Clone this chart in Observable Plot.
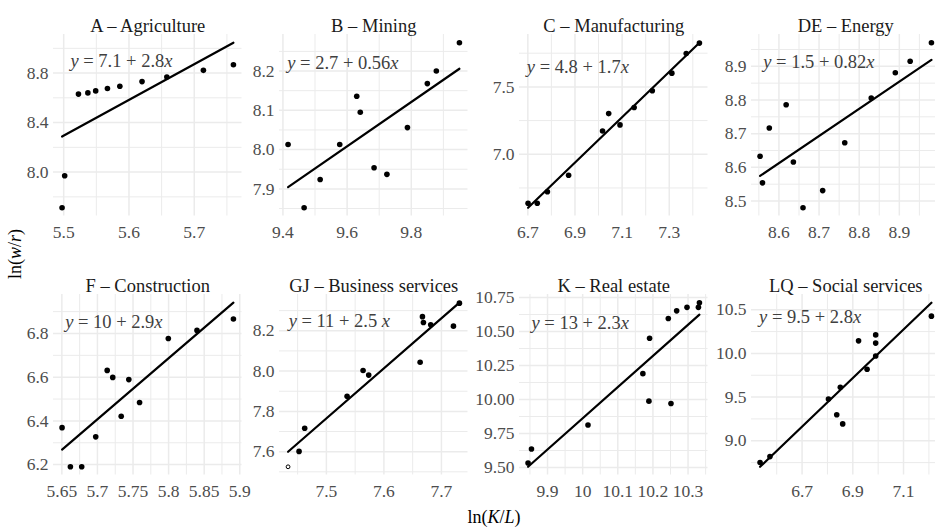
<!DOCTYPE html>
<html>
<head>
<meta charset="utf-8">
<script src="https://cdn.jsdelivr.net/npm/d3@7"></script>
<script src="https://cdn.jsdelivr.net/npm/@observablehq/plot@0.6"></script>
<style>
  html, body { margin: 0; padding: 0; background: #fff; overflow: hidden; }
  #chart { position: relative; width: 935px; height: 531px; overflow: hidden; background: #fff;
           font-family: "Liberation Serif", "Times New Roman", serif; }
  #chart svg, #chart svg text, #chart svg tspan { font-family: "Liberation Serif", "Times New Roman", serif !important; }
  .axtitle { position: absolute; font-family: "Liberation Serif", "Times New Roman", serif;
             font-size: 18px; color: #000; white-space: nowrap; line-height: 1; }
</style>
</head>
<body>
<div id="chart"></div>
<script>
// ---- panel titles and fitted-equation annotations ----
const titles = ["A – Agriculture", "B – Mining", "C – Manufacturing", "DE – Energy",
                "F – Construction", "GJ – Business services", "K – Real estate", "LQ – Social services"];
const equations = ["y = 7.1 + 2.8x", "y = 2.7 + 0.56x", "y = 4.8 + 1.7x", "y = 1.5 + 0.82x",
                   "y = 10 + 2.9x", "y = 11 + 2.5 x", "y = 13 + 2.3x", "y = 9.5 + 2.8x"];
const eqX = [5.5103, 9.4134, 6.6957, 8.561, 5.6546, 7.4344, 9.8543, 6.5305];
const eqY = [8.899, 8.221, 7.648, 8.912, 6.850, 8.250, 10.561, 10.416];

// ---- data: ln(K/L) (x) and ln(w/r) (y) per sector ----
const aX = [5.4975, 5.5015, 5.5226, 5.537, 5.549, 5.567, 5.586, 5.620, 5.658, 5.714, 5.760];
const aY = [7.712, 7.971, 8.630, 8.640, 8.656, 8.675, 8.694, 8.731, 8.768, 8.822, 8.867];

const bX = [9.416, 9.466, 9.516, 9.577, 9.630, 9.641, 9.684, 9.724, 9.788, 9.850, 9.878, 9.950];
const bY = [8.013, 7.852, 7.924, 8.013, 8.136, 8.095, 7.954, 7.937, 8.056, 8.168, 8.200, 8.272];

const cX = [6.701, 6.740, 6.783, 6.873, 7.017, 7.043, 7.091, 7.151, 7.228, 7.311, 7.372, 7.428];
const cY = [6.636, 6.636, 6.722, 6.844, 7.173, 7.302, 7.218, 7.347, 7.471, 7.602, 7.748, 7.825];

const dX = [8.553, 8.559, 8.576, 8.618, 8.636, 8.660, 8.709, 8.764, 8.830, 8.890, 8.927, 8.980];
const dY = [8.633, 8.554, 8.717, 8.786, 8.616, 8.480, 8.531, 8.673, 8.806, 8.881, 8.915, 8.970];

const fX = [5.6503, 5.662, 5.6779, 5.6976, 5.7137, 5.7215, 5.7334, 5.7441, 5.7592, 5.7996, 5.8399, 5.8911];
const fY = [6.369, 6.190, 6.190, 6.327, 6.631, 6.599, 6.421, 6.589, 6.484, 6.777, 6.814, 6.866];

const gjX = [7.4525, 7.4623, 7.536, 7.5638, 7.5736, 7.663, 7.667, 7.6687, 7.6814, 7.7209, 7.7313];
const gjY = [7.6015, 7.716, 7.875, 8.003, 7.980, 8.044, 8.270, 8.241, 8.230, 8.223, 8.337];
const gjOpenX = [7.4334];
const gjOpenY = [7.525];

const kX = [9.8446, 9.8543, 10.0152, 10.1714, 10.1905, 10.1886, 10.2438, 10.2514, 10.2676, 10.297, 10.3295, 10.3324];
const kY = [9.533, 9.636, 9.812, 10.19, 10.451, 9.988, 10.596, 9.971, 10.652, 10.678, 10.678, 10.712];

const lqX = [6.5344, 6.5734, 6.804, 6.8367, 6.8508, 6.8602, 6.9227, 6.9563, 6.9902, 6.9902, 6.9902, 7.21];
const lqY = [8.751, 8.819, 9.479, 9.298, 9.612, 9.193, 10.144, 9.819, 10.212, 10.118, 9.971, 10.427];

// ---- tick labels ----
const aXT = ["5.5", "5.6", "5.7"],               aYT = ["8.0", "8.4", "8.8"];
const bXT = ["9.4", "9.6", "9.8"],               bYT = ["7.9", "8.0", "8.1", "8.2"];
const cXT = ["6.7", "6.9", "7.1", "7.3"],        cYT = ["7.0", "7.5"];
const dXT = ["8.6", "8.7", "8.8", "8.9"],        dYT = ["8.5", "8.6", "8.7", "8.8", "8.9"];
const fXT = ["5.65", "5.7", "5.75", "5.8", "5.85", "5.9"], fYT = ["6.2", "6.4", "6.6", "6.8"];
const gjXT = ["7.5", "7.6", "7.7"],              gjYT = ["7.6", "7.8", "8.0", "8.2"];
const kXT = ["9.9", "10", "10.1", "10.2", "10.3"], kYT = ["9.50", "9.75", "10.00", "10.25", "10.50", "10.75"];
const lqXT = ["6.7", "6.9", "7.1"],              lqYT = ["9.0", "9.5", "10.0", "10.5"];

const specs = [
  {x: aX, y: aY, xt: aXT, yt: aYT},
  {x: bX, y: bY, xt: bXT, yt: bYT},
  {x: cX, y: cY, xt: cXT, yt: cYT},
  {x: dX, y: dY, xt: dXT, yt: dYT},
  {x: fX, y: fY, xt: fXT, yt: fYT},
  {x: gjX, y: gjY, ox: gjOpenX, oy: gjOpenY, xt: gjXT, yt: gjYT},
  {x: kX, y: kY, xt: kXT, yt: kYT},
  {x: lqX, y: lqY, xt: lqXT, yt: lqYT}
];

// ---- helpers ----
function ols(xs, ys) {
  const mx = d3.mean(xs), my = d3.mean(ys);
  let sxy = 0, sxx = 0;
  for (let i = 0; i < xs.length; i++) { sxy += (xs[i] - mx) * (ys[i] - my); sxx += (xs[i] - mx) ** 2; }
  const b = sxy / sxx;
  return {a: my - b * mx, b};
}
function expand([lo, hi]) { const p = (hi - lo) * 0.05; return [lo - p, hi + p]; }
function minors(major, dom) {
  const s = major[1] - major[0];
  const out = [major[0] - s / 2];
  for (const m of major) out.push(m + s / 2);
  return out.filter(v => v > dom[0] && v < dom[1]);
}
const inside = (arr, dom) => arr.filter(v => v >= dom[0] && v <= dom[1]);

// ---- layout ----
const chart = document.getElementById("chart");
const colLeft = [53.3, 279, 519, 751];
const rowTop = [33.5, 293.5];
const panelW = 188.5;
const panelH = [181.5, 180.5];
const mL = 52, mR = 8, mT = 30, mB = 30;
const gridColor = "#EBEBEB";
const FONT = "'Liberation Serif', 'Times New Roman', serif";

specs.forEach((s, k) => {
  const col = k % 4, row = Math.floor(k / 4);
  const xs = s.x.concat(s.ox || []), ys = s.y.concat(s.oy || []);
  const fit = ols(xs, ys);
  const xExt = d3.extent(xs);
  const xd = expand(xExt);
  const yd = expand(d3.extent(ys.concat(xExt.map(v => fit.a + fit.b * v))));
  const xMaj = s.xt.map(Number), yMaj = s.yt.map(Number);
  const all = xs.map((x, i) => ({x, y: ys[i]}));
  const filled = s.x.map((x, i) => ({x, y: s.y[i]}));
  const open = (s.ox || []).map((x, i) => ({x, y: s.oy[i]}));

  const plot = Plot.plot({
    width: panelW + mL + mR,
    height: panelH[row] + mT + mB,
    marginLeft: mL, marginRight: mR, marginTop: mT, marginBottom: mB,
    style: `font-family: ${FONT}; font-size: 17.5px; color: #4D4D4D; background: transparent; overflow: visible; max-width: none;`,
    x: {domain: xd, ticks: xMaj, tickFormat: d => s.xt[xMaj.indexOf(d)], tickSize: 0, tickPadding: 9.5, label: null},
    y: {domain: yd, ticks: yMaj, tickFormat: d => s.yt[yMaj.indexOf(d)], tickSize: 0, tickPadding: 5, label: null},
    marks: [
      Plot.ruleX(minors(xMaj, xd), {stroke: gridColor, strokeWidth: 1}),
      Plot.ruleY(minors(yMaj, yd), {stroke: gridColor, strokeWidth: 1}),
      Plot.ruleX(inside(xMaj, xd), {stroke: gridColor, strokeWidth: 1.5}),
      Plot.ruleY(inside(yMaj, yd), {stroke: gridColor, strokeWidth: 1.5}),
      Plot.linearRegressionY(all, {x: "x", y: "y", ci: 0, stroke: "#000", strokeWidth: 2.2}),
      Plot.dot(filled, {x: "x", y: "y", r: 2.8, fill: "#000", stroke: "none"}),
      Plot.dot(open, {x: "x", y: "y", r: 1.9, fill: "#fff", stroke: "#000", strokeWidth: 1}),
      Plot.text([{x: eqX[k], y: eqY[k], t: equations[k]}],
                {x: "x", y: "y", text: "t", textAnchor: "start", fontSize: 18.5, fontFamily: FONT, fill: "#404040"}),
      Plot.text([titles[k]], {frameAnchor: "top", dy: -16, text: d => d, fontSize: 18.5, fontFamily: FONT, fill: "#1A1A1A"})
    ]
  });
  plot.style.position = "absolute";
  plot.style.left = (colLeft[col] - mL) + "px";
  plot.style.top = (rowTop[row] - mT) + "px";
  plot.style.maxWidth = "none";
  plot.setAttribute("font-family", FONT);
  plot.setAttribute("font-size", "17.5");

  // italicise the variables in the fitted equation
  plot.querySelectorAll("text").forEach(t => {
    const str = t.textContent;
    if (str.startsWith("y =")) {
      while (t.firstChild) t.removeChild(t.firstChild);
      const ns = "http://www.w3.org/2000/svg";
      const parts = [[str.slice(0, 1), true], [str.slice(1, -1), false], [str.slice(-1), true]];
      for (const [txt, it] of parts) {
        const sp = document.createElementNS(ns, "tspan");
        sp.textContent = txt;
        if (it) sp.setAttribute("font-style", "italic");
        t.appendChild(sp);
      }
    }
  });
  chart.appendChild(plot);
});

// ---- shared axis titles ----
const ylab = document.createElement("div");
ylab.className = "axtitle";
ylab.innerHTML = "ln(<i>w</i>/<i>r</i>)";
ylab.style.left = "15px"; ylab.style.top = "254px";
ylab.style.transform = "translate(-50%, -50%) rotate(-90deg)";
chart.appendChild(ylab);

const xlab = document.createElement("div");
xlab.className = "axtitle";
xlab.innerHTML = "ln(<i>K</i>/<i>L</i>)";
xlab.style.left = "494px"; xlab.style.top = "517px";
xlab.style.transform = "translate(-50%, -50%)";
chart.appendChild(xlab);
</script>
</body>
</html>
